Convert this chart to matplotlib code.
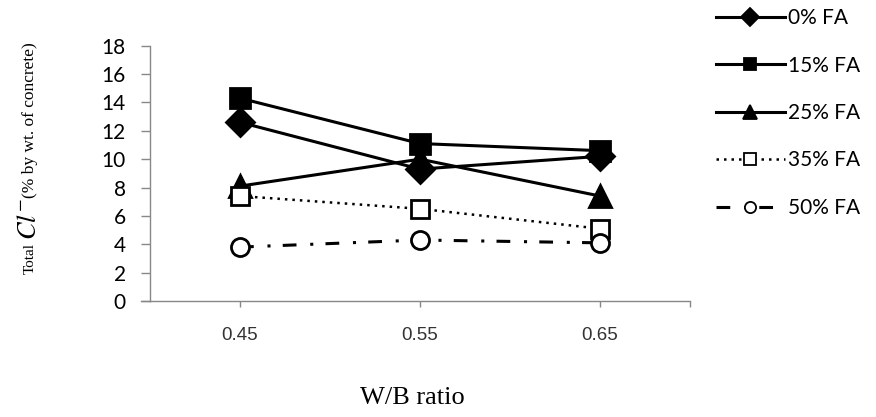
import matplotlib
matplotlib.use('Agg')
import matplotlib.pyplot as plt
from matplotlib.lines import Line2D

# Chloride content vs water/binder ratio for each fly ash replacement level
wb_ratio = ['0.45', '0.55', '0.65']
fa_labels = ['0% FA', '15% FA', '25% FA', '35% FA', '50% FA']
cl_0 = [12.6, 9.3, 10.2]
cl_15 = [14.3, 11.1, 10.6]
cl_25 = [8.1, 10.0, 7.4]
cl_35 = [7.4, 6.5, 5.1]
cl_50 = [3.8, 4.3, 4.1]
y_ticks = list(range(0, 19, 2))

plt.rcParams['mathtext.fontset'] = 'stix'

W, H = 876, 417
fig = plt.figure(figsize=(W / 100, H / 100), dpi=100)
ax = fig.add_axes([150 / W, (H - 301) / H, 540 / W, (301 - 45.7) / H])

x = list(range(len(wb_ratio)))
styles = [
    dict(marker='D', ms=14, mfc='black', ls='-', lw=2.2),
    dict(marker='s', ms=14, mfc='black', ls='-', lw=2.2),
    dict(marker='^', ms=16, mfc='black', ls='-', lw=2.2),
    dict(marker='s', ms=13, mfc='white', ls=(0, (1, 2)), lw=1.8),
    dict(marker='o', ms=13, mfc='white', ls=(0, (4.5, 4.5, 1, 4)), lw=2.2),
]
series = [cl_0, cl_15, cl_25, cl_35, cl_50]
for vals, lab, st in zip(series, fa_labels, styles):
    ax.plot(x, vals, color='black', mec='black', mew=2, label=lab, **st)

ax.set_xlim(-0.5, 2.5)
ax.set_ylim(0, 18)
ax.set_yticks(y_ticks)
ax.set_yticklabels([str(t) for t in y_ticks], family='Lato', fontsize=15)
ax.set_xticks(x + [2.5])
ax.set_xticklabels(wb_ratio + [''], family='Liberation Sans', fontsize=13.5,
                   color='#333333')
ax.tick_params(axis='y', length=6.5, width=1, color='#888888', pad=11)
ax.tick_params(axis='x', length=4, width=1, color='#888888', pad=15)

for s in ['top', 'right']:
    ax.spines[s].set_visible(False)
for s in ['left', 'bottom']:
    ax.spines[s].set_color('#888888')
    ax.spines[s].set_linewidth(1)

# x axis runs a bit past the y axis
ax.plot([-0.55, -0.5], [0, 0], color='#888888', lw=1, clip_on=False)

# X label
fig.text(412 / W, 1 - 398 / H, 'W/B ratio', family='Liberation Serif',
         fontsize=19, ha='center', va='center')

# Y label built from three pieces
fig.text(34 / W, 1 - 274 / H, 'Total', family='Liberation Serif', fontsize=11,
         rotation=90, rotation_mode='anchor', ha='left', va='baseline')
fig.text(36 / W, 1 - 240 / H, r'$Cl^{-}$', fontsize=19,
         rotation=90, rotation_mode='anchor', ha='left', va='baseline')
fig.text(34 / W, 1 - 198 / H, '(% by wt. of concrete)', family='Liberation Serif',
         fontsize=12.5, rotation=90, rotation_mode='anchor', ha='left',
         va='baseline')

handles = []
for st in styles:
    handles.append(Line2D([], [], color='black', lw=st['lw'], marker=st['marker'],
                          ms=st['ms'] * 0.62, mfc=st['mfc'], mec='black',
                          mew=1.3, ls=st['ls']))
leg = fig.legend(handles, fa_labels, loc='upper left',
                 bbox_to_anchor=(716 / W, 1 - 8 / H), frameon=False,
                 prop={'family': 'Lato', 'size': 15}, handlelength=3.3,
                 labelspacing=1.32, handletextpad=0.15, borderpad=0,
                 borderaxespad=0)

fig.savefig('out.png', dpi=100)
